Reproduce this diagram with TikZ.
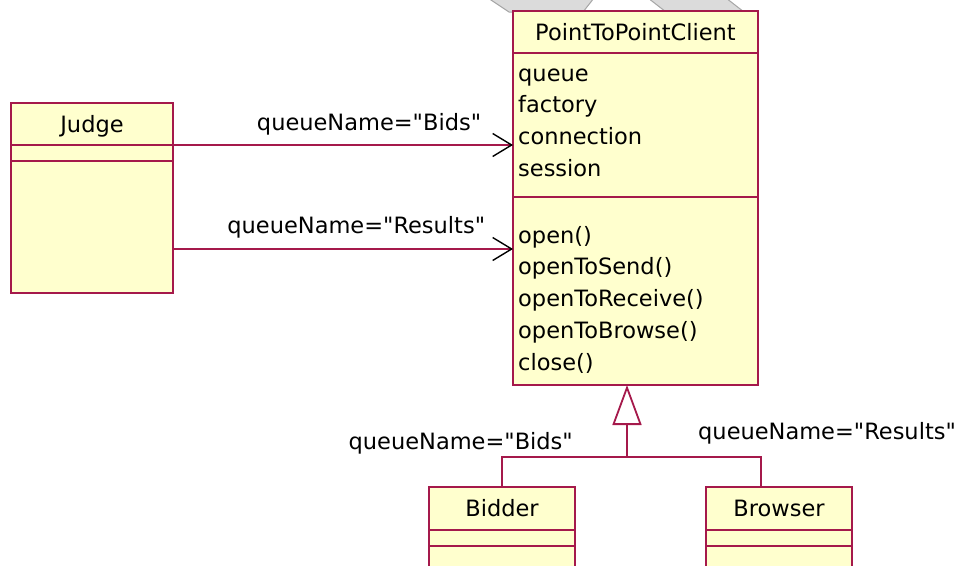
\documentclass[tikz,border=0pt]{standalone}
\usepackage{fontspec}
\setmainfont{DejaVu Sans}
\usepackage{tikz}
\usetikzlibrary{positioning,calc,arrows.meta}
\definecolor{RoseRed}{RGB}{165,25,75}
\definecolor{RoseYellow}{RGB}{255,255,206}
\newcommand{\rosefont}{\fontsize{22.5pt}{31.7pt}\selectfont}
\newcommand{\qname}[1]{queueName=\textquotedbl#1\textquotedbl}
\tikzset{
    classname/.style={draw=RoseRed, fill=RoseYellow, line width=2pt, anchor=north west, inner sep=0pt, outer sep=0pt, minimum height=42pt, text height=16.4pt, text depth=0pt, font=\rosefont},
    classpart/.style={draw=RoseRed, fill=RoseYellow, line width=2pt, inner sep=0pt, outer sep=0pt},
    membertext/.style={anchor=base west, inner sep=0pt, font=\rosefont},
    roletext/.style={inner sep=0pt, font=\rosefont},
    assoc/.style={draw=RoseRed, line width=1.8pt, -{Straight Barb[length=19pt, width=23pt, line width=1.4pt, color=black]}},
    generalize/.style={draw=RoseRed, line width=1.8pt}
}
\begin{document}
\begin{tikzpicture}[x=1pt, y=-1pt]
    % 0. KHUNG
    \useasboundingbox (0,0) rectangle (958,565);
    \clip (0,0) rectangle (958,565);

    % dai xam phia sau
    \filldraw[fill=black!14, draw=black!35, line width=1pt] (488,-2) -- (594,-2) -- (583,12) -- (509,12) -- cycle;
    \filldraw[fill=black!14, draw=black!35, line width=1pt] (648,-2) -- (726,-2) -- (744,12) -- (666,12) -- cycle;

    % 1. CAC LOP
    \node[classname, minimum width=162pt] (judge) at (11,103) {Judge};
    \node[classpart, minimum width=162pt, minimum height=16pt, below=0pt of judge] (judgeattr) {};
    \node[classpart, minimum width=162pt, minimum height=132pt, below=0pt of judgeattr] (judgeops) {};

    \node[classname, minimum width=245pt] (ptp) at (513,11) {PointToPointClient};
    \node[classpart, minimum width=245pt, minimum height=144pt, below=0pt of ptp] (ptpattr) {};
    \node[classpart, minimum width=245pt, minimum height=188pt, below=0pt of ptpattr] (ptpops) {};
    \foreach \member [count=\i from 0] in {queue, factory, connection, session}
        \node[membertext] (attr\i) at ([xshift=5pt, yshift=-28pt-31.7pt*\i]ptpattr.north west) {\member};
    \foreach \member [count=\i from 0] in {open(), openToSend(), openToReceive(), openToBrowse(), close()}
        \node[membertext] (op\i) at ([xshift=5pt, yshift=-46pt-31.75pt*\i]ptpops.north west) {\member};

    \node[classname, minimum width=146pt, minimum height=43pt] (bidder) at (429,487) {Bidder};
    \node[classpart, minimum width=146pt, minimum height=16pt, below=0pt of bidder] (bidderattr) {};
    \node[classpart, minimum width=146pt, minimum height=40pt, below=0pt of bidderattr] (bidderops) {};

    \node[classname, minimum width=146pt, minimum height=43pt] (browser) at (706,487) {Browser};
    \node[classpart, minimum width=146pt, minimum height=16pt, below=0pt of browser] (browserattr) {};
    \node[classpart, minimum width=146pt, minimum height=40pt, below=0pt of browserattr] (browserops) {};

    % 2. LIEN KET
    \draw[assoc] (judge.south east) -- (judge.south east -| ptpattr.west)
        node[roletext, anchor=base east, pos=1, xshift=-31pt, yshift=15pt] (bidsrole) {\qname{Bids}};
    \coordinate (resultsstart) at ([yshift=-88pt]judgeops.north east);
    \draw[assoc] (resultsstart) -- (resultsstart -| ptpops.west)
        node[roletext, anchor=base east, pos=1, xshift=-27pt, yshift=16pt] (resultsrole) {\qname{Results}};

    % 3. KE THUA
    \coordinate (fork) at (627,457);
    \draw[generalize, -{Triangle[length=40pt, width=29pt, fill=white, line width=1.8pt]}]
        (bidder.north) |- (fork) -- (fork |- ptpops.south);
    \draw[generalize] ([xshift=-18pt]browser.north) |- (fork);

    % 4. TEN VAI TRO
    \node[roletext, anchor=base east] (bidderrole) at ([xshift=71pt, yshift=38pt]bidder.north) {\qname{Bids}};
    \node[roletext, anchor=base west] (browserrole) at ([xshift=-81pt, yshift=48pt]browser.north) {\qname{Results}};
\end{tikzpicture}
\end{document}
